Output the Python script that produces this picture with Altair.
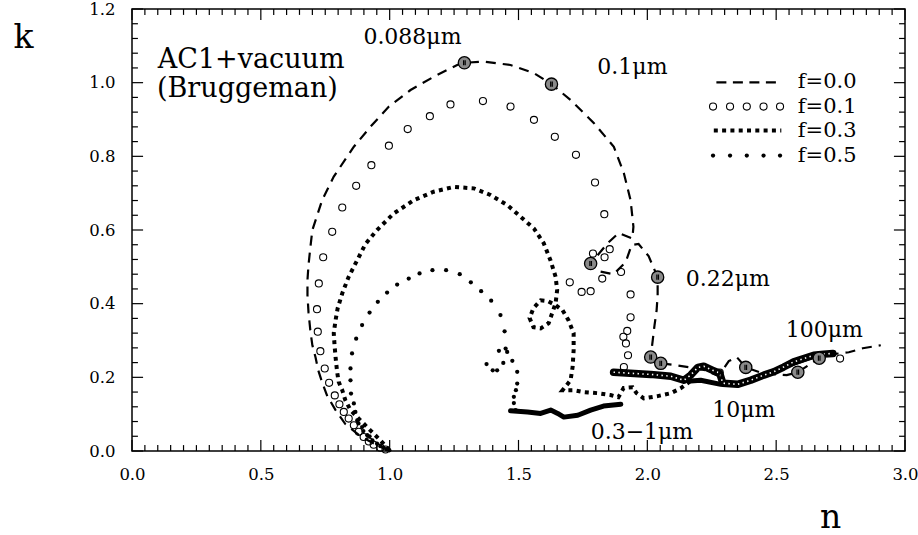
import altair as alt
import pandas as pd

# ---------------- data ----------------
# f = 0.0 (dashed curve), in drawing order
f00_n = [0.999, 0.945, 0.887, 0.828, 0.790, 0.758, 0.739, 0.723, 0.712, 0.700,
         0.692, 0.685, 0.681, 0.681, 0.685, 0.692, 0.700, 0.738, 0.783, 0.861,
         0.925, 0.997, 1.081, 1.171, 1.262, 1.290, 1.365, 1.469, 1.560, 1.628,
         1.702, 1.793, 1.870, 1.909, 1.935, 1.946, 1.942, 1.889, 1.846, 1.780,
         1.811, 1.869, 1.916, 1.939, 1.966, 2.005, 2.040, 2.040, 2.036, 2.028,
         2.021, 2.013, 2.052, 2.110, 2.168, 2.226, 2.269, 2.292, 2.316, 2.347,
         2.382, 2.448, 2.541, 2.584, 2.626, 2.667, 2.720, 2.782, 2.836, 2.906]
f00_k = [0.002, 0.018, 0.040, 0.073, 0.111, 0.149, 0.184, 0.219, 0.255, 0.287,
         0.328, 0.377, 0.423, 0.464, 0.505, 0.551, 0.600, 0.681, 0.745, 0.826,
         0.880, 0.935, 0.980, 1.016, 1.048, 1.054, 1.057, 1.048, 1.026, 0.996,
         0.953, 0.890, 0.826, 0.754, 0.681, 0.609, 0.577, 0.592, 0.564, 0.509,
         0.488, 0.480, 0.513, 0.559, 0.562, 0.529, 0.472, 0.423, 0.382, 0.342,
         0.301, 0.255, 0.238, 0.233, 0.227, 0.219, 0.206, 0.219, 0.244, 0.255,
         0.227, 0.211, 0.206, 0.214, 0.233, 0.252, 0.263, 0.268, 0.279, 0.287]

# f = 0.1 (open circles)
f10_n = [0.984, 0.964, 0.938, 0.919, 0.899, 0.880, 0.861, 0.841, 0.822, 0.805,
         0.787, 0.765, 0.748, 0.731, 0.721, 0.718, 0.725, 0.742, 0.777, 0.816,
         0.870, 0.929, 0.997, 1.070, 1.156, 1.236, 1.362, 1.469, 1.560, 1.641,
         1.723, 1.797, 1.833, 1.854, 1.834, 1.789, 1.825, 1.898, 1.699, 1.745,
         1.780, 1.935, 1.935, 1.922, 1.907, 1.917, 1.925, 1.909, 2.281, 2.748]
f10_k = [0.004, 0.009, 0.017, 0.026, 0.038, 0.052, 0.070, 0.088, 0.106, 0.127,
         0.151, 0.185, 0.224, 0.271, 0.324, 0.385, 0.455, 0.526, 0.595, 0.661,
         0.720, 0.776, 0.829, 0.874, 0.909, 0.941, 0.950, 0.935, 0.899, 0.853,
         0.804, 0.729, 0.643, 0.548, 0.526, 0.536, 0.468, 0.486, 0.458, 0.432,
         0.434, 0.425, 0.363, 0.326, 0.310, 0.292, 0.260, 0.228, 0.213, 0.251]
# f = 0.1 dense part (overlapping circles, infrared)
f10c_n = [1.869, 1.934, 2.013, 2.091, 2.142, 2.168, 2.196, 2.219, 2.254, 2.281,
          2.293, 2.350, 2.401, 2.452, 2.490, 2.529, 2.568, 2.607, 2.646, 2.685, 2.720]
f10c_k = [0.214, 0.211, 0.208, 0.203, 0.192, 0.206, 0.227, 0.230, 0.219, 0.211,
          0.184, 0.181, 0.192, 0.206, 0.215, 0.228, 0.242, 0.251, 0.260, 0.263, 0.265]

# f = 0.3 (dense dotted curve)
f30_n = [0.999, 0.964, 0.925, 0.887, 0.848, 0.828, 0.816, 0.802, 0.796, 0.790,
         0.786, 0.783, 0.790, 0.798, 0.816, 0.841, 0.874, 0.906, 0.951, 1.016,
         1.094, 1.171, 1.249, 1.327, 1.391, 1.456, 1.508, 1.560, 1.598, 1.624,
         1.644, 1.650, 1.644, 1.617, 1.586, 1.558, 1.543, 1.558, 1.586, 1.613,
         1.644, 1.671, 1.694, 1.714, 1.714, 1.710, 1.702, 1.671, 1.714, 1.753,
         1.807, 1.857, 1.888, 1.908, 1.943, 1.958, 1.986, 2.040, 2.091, 2.129, 2.168]
f30_k = [0.002, 0.029, 0.056, 0.083, 0.111, 0.138, 0.165, 0.188, 0.215, 0.255,
         0.288, 0.320, 0.355, 0.387, 0.428, 0.473, 0.518, 0.562, 0.600, 0.645,
         0.681, 0.704, 0.717, 0.713, 0.695, 0.668, 0.636, 0.604, 0.564, 0.518,
         0.473, 0.437, 0.401, 0.347, 0.333, 0.336, 0.361, 0.388, 0.409, 0.407,
         0.396, 0.382, 0.355, 0.320, 0.274, 0.228, 0.192, 0.165, 0.165, 0.160,
         0.157, 0.152, 0.146, 0.171, 0.173, 0.157, 0.143, 0.149, 0.157, 0.170, 0.190]
# f = 0.3 dense part
f30d_n = [2.168, 2.207, 2.285, 2.350, 2.401, 2.479, 2.557, 2.634, 2.712]
f30d_k = [0.190, 0.192, 0.181, 0.181, 0.192, 0.211, 0.236, 0.255, 0.265]

# f = 0.5 (sparse dots)
f50_n = [0.999, 0.988, 0.976, 0.964, 0.951, 0.933, 0.922, 0.913, 0.898, 0.893,
         0.879, 0.874, 0.867, 0.861, 0.850, 0.848, 0.848, 0.854, 0.870, 0.893,
         0.922, 0.954, 0.990, 1.029, 1.074, 1.116, 1.166, 1.219, 1.272, 1.315,
         1.355, 1.394, 1.430, 1.446, 1.450, 1.424, 1.456, 1.441, 1.476, 1.376,
         1.400, 1.417, 1.495, 1.495, 1.490, 1.482, 1.482, 1.489]
f50_k = [0.002, 0.005, 0.009, 0.013, 0.020, 0.029, 0.040, 0.043, 0.054, 0.065,
         0.075, 0.083, 0.106, 0.129, 0.156, 0.192, 0.224, 0.265, 0.305, 0.342,
         0.376, 0.405, 0.430, 0.452, 0.468, 0.482, 0.491, 0.491, 0.480, 0.458,
         0.434, 0.408, 0.369, 0.325, 0.278, 0.272, 0.269, 0.239, 0.245, 0.236,
         0.219, 0.219, 0.215, 0.183, 0.165, 0.147, 0.130, 0.111]
# f = 0.5 dense part (0.3-1 micron)
f50d_n = [1.469, 1.535, 1.586, 1.625, 1.652, 1.676, 1.730, 1.780, 1.830, 1.897]
f50d_k = [0.109, 0.106, 0.102, 0.111, 0.102, 0.092, 0.097, 0.111, 0.122, 0.127]

# highlighted wavelength markers
mark_n = [1.290, 1.628, 1.780, 2.040, 2.013, 2.052, 2.382, 2.584, 2.667]
mark_k = [1.054, 0.996, 0.509, 0.472, 0.255, 0.238, 0.227, 0.214, 0.252]

# wavelength annotations
ann_text = ["0.088μm", "0.1μm", "0.22μm", "100μm", "10μm", "0.3−1μm"]
ann_n = [0.898, 1.806, 2.149, 2.537, 2.252, 1.780]
ann_k = [1.124, 1.043, 0.468, 0.328, 0.111, 0.052]

# panel label
lab_text = ["AC1+vacuum", "(Bruggeman)"]
lab_n = [0.100, 0.097]
lab_k = [1.062, 0.982]

# legend
leg_text = ["f=0.0", "f=0.1", "f=0.3", "f=0.5"]
leg_k = [1.001, 0.935, 0.870, 0.802]
leg_text_n = 2.584
leg_line_n = [2.268, 2.520]
leg_pts_n = [2.255, 2.321, 2.386, 2.451, 2.515]

# axis ticks
x_labels = [0.0, 0.5, 1.0, 1.5, 2.0, 2.5, 3.0]
y_labels = [0.0, 0.2, 0.4, 0.6, 0.8, 1.0, 1.2]

# ---------------- chart ----------------
FONT = "DejaVu Serif"
W, H = 773, 442
xs = alt.Scale(domain=[0, 3], nice=False, zero=False)
ys = alt.Scale(domain=[0, 1.2], nice=False, zero=False)

xaxis = alt.Axis(values=x_labels, format=".1f", ticks=False, tickSize=0, domain=False,
                 grid=False, labelFont=FONT, labelFontSize=16.5, labelColor="black",
                 labelPadding=15, labelFlush=False, labelOverlap=False,
                 title="n", titleFont=FONT, titleFontSize=33, titleFontWeight="normal",
                 titleColor="black", titleX=698, titleY=76, titleAngle=0,
                 titleAlign="center", titleBaseline="alphabetic")
yaxis = alt.Axis(values=y_labels, format=".1f", ticks=False, tickSize=0, domain=False,
                 grid=False, labelFont=FONT, labelFontSize=16.5, labelColor="black",
                 labelPadding=17, labelFlush=False, labelOverlap=False,
                 title="k", titleFont=FONT, titleFontSize=33, titleFontWeight="normal",
                 titleColor="black", titleX=-109, titleY=38, titleAngle=0,
                 titleAlign="center", titleBaseline="alphabetic")


def X(f):
    return alt.X(f, type="quantitative", scale=xs, axis=xaxis)


def Y(f):
    return alt.Y(f, type="quantitative", scale=ys, axis=yaxis)


def path_df(ns, ks):
    return pd.DataFrame({"n": ns, "k": ks, "i": list(range(len(ns)))})


# curves
l00 = alt.Chart(path_df(f00_n, f00_k)).mark_line(
    color="black", strokeWidth=2.2, strokeDash=[10, 7]
).encode(x=X("n"), y=Y("k"), order="i:Q")

l30 = alt.Chart(path_df(f30_n, f30_k)).mark_line(
    color="black", strokeWidth=4, strokeDash=[4, 4.3]
).encode(x=X("n"), y=Y("k"), order="i:Q")

l30d = alt.Chart(path_df(f30d_n, f30d_k)).mark_line(
    color="black", strokeWidth=5, strokeJoin="round", strokeCap="round"
).encode(x=X("n"), y=Y("k"), order="i:Q")

l50 = alt.Chart(path_df(f50_n, f50_k)).mark_circle(
    color="black", size=18, opacity=1
).encode(x=X("n"), y=Y("k"))

l50d = alt.Chart(path_df(f50d_n, f50d_k)).mark_line(
    color="black", strokeWidth=5, strokeJoin="round", strokeCap="round"
).encode(x=X("n"), y=Y("k"), order="i:Q")

l10c = alt.Chart(path_df(f10c_n, f10c_k)).mark_line(
    color="black", strokeWidth=7.5, strokeJoin="round", strokeCap="round"
).encode(x=X("n"), y=Y("k"), order="i:Q")

l10c2 = alt.Chart(path_df(f10c_n, f10c_k)).mark_line(
    color="white", strokeWidth=1.6, strokeDash=[1.4, 3.4], strokeJoin="round"
).encode(x=X("n"), y=Y("k"), order="i:Q")

l10 = alt.Chart(path_df(f10_n, f10_k)).mark_point(
    shape="circle", size=50, filled=False, color="black", strokeWidth=1.1, opacity=1
).encode(x=X("n"), y=Y("k"))

mdf = pd.DataFrame({"n": mark_n, "k": mark_k})
lm = alt.Chart(mdf).mark_circle(
    size=150, color="#8a8a8a", stroke="black", strokeWidth=1.3, opacity=1
).encode(x=X("n"), y=Y("k"))
lmh = alt.Chart(mdf).mark_point(
    shape="M -0.13 -0.42 L -0.13 0.42 M 0.13 -0.42 L 0.13 0.42",
    size=150, filled=False, color="black", strokeWidth=1.2, opacity=1
).encode(x=X("n"), y=Y("k"))

# texts
lann = alt.Chart(pd.DataFrame({"t": ann_text, "n": ann_n, "k": ann_k})).mark_text(
    align="left", baseline="middle", font=FONT, fontSize=22, color="black"
).encode(x=X("n"), y=Y("k"), text="t:N")

llab = alt.Chart(pd.DataFrame({"t": lab_text, "n": lab_n, "k": lab_k})).mark_text(
    align="left", baseline="middle", font=FONT, fontSize=27, color="black"
).encode(x=X("n"), y=Y("k"), text="t:N")

# legend
leg_df = pd.DataFrame({"t": leg_text, "k": leg_k, "n": [leg_text_n] * 4})
lleg_t = alt.Chart(leg_df).mark_text(
    align="left", baseline="middle", font=FONT, fontSize=21, color="black"
).encode(x=X("n"), y=Y("k"), text="t:N")

lleg0 = alt.Chart(pd.DataFrame({"a": [leg_line_n[0]], "b": [leg_line_n[1]], "k": [leg_k[0]]})).mark_rule(
    color="black", strokeWidth=2.2, strokeDash=[10, 6.5]
).encode(x=X("a"), x2="b", y=Y("k"))
lleg3 = alt.Chart(pd.DataFrame({"a": [leg_line_n[0] - 0.01], "b": [leg_line_n[1]], "k": [leg_k[2]]})).mark_rule(
    color="black", strokeWidth=4, strokeDash=[4, 4.3]
).encode(x=X("a"), x2="b", y=Y("k"))
lleg1 = alt.Chart(pd.DataFrame({"n": leg_pts_n, "k": [leg_k[1]] * 5})).mark_point(
    shape="circle", size=50, filled=False, color="black", strokeWidth=1.1, opacity=1
).encode(x=X("n"), y=Y("k"))
lleg5 = alt.Chart(pd.DataFrame({"n": leg_pts_n, "k": [leg_k[3]] * 5})).mark_circle(
    size=18, color="black", opacity=1
).encode(x=X("n"), y=Y("k"))

# inside tick marks on all four sides
xt = [round(0.05 * i, 2) for i in range(61)]
xl = [0.030 if i % 10 == 0 else 0.016 for i in range(61)]
yt = [round(0.04 * i, 2) for i in range(31)]
yl = [0.043 if i % 5 == 0 else 0.023 for i in range(31)]

tb = alt.Chart(pd.DataFrame({"t": xt, "a": [0.0] * 61, "b": xl})).mark_rule(
    color="black", strokeWidth=1.2).encode(x=X("t"), y=Y("a"), y2="b")
tt = alt.Chart(pd.DataFrame({"t": xt, "a": [1.2] * 61, "b": [1.2 - v for v in xl]})).mark_rule(
    color="black", strokeWidth=1.2).encode(x=X("t"), y=Y("a"), y2="b")
tl = alt.Chart(pd.DataFrame({"t": yt, "a": [0.0] * 31, "b": yl})).mark_rule(
    color="black", strokeWidth=1.2).encode(y=Y("t"), x=X("a"), x2="b")
tr = alt.Chart(pd.DataFrame({"t": yt, "a": [3.0] * 31, "b": [3.0 - v for v in yl]})).mark_rule(
    color="black", strokeWidth=1.2).encode(y=Y("t"), x=X("a"), x2="b")

chart = alt.layer(
    l00, tb, tt, tl, tr,
    l30, l30d, l50, l50d, l10c, l10c2, l10, lm, lmh,
    lann, llab, lleg_t, lleg0, lleg3, lleg1, lleg5
).properties(
    width=W, height=H,
    padding={"left": 132, "top": 9, "right": 13, "bottom": 84},
    autosize=alt.AutoSizeParams(type="none"),
    background="white",
).configure_view(stroke="black", strokeWidth=1.5)

chart.save("out.html", embed_options={"renderer": "svg", "actions": False})
